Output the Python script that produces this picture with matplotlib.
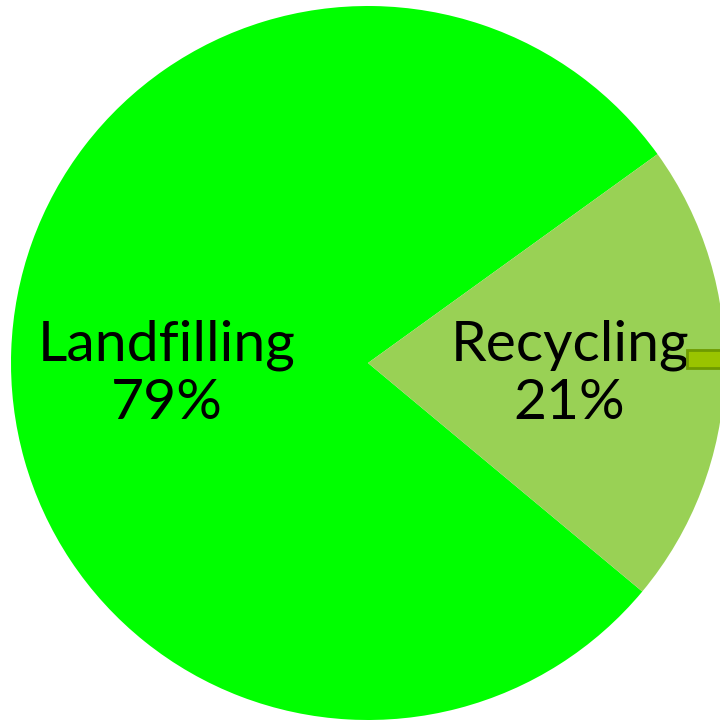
import matplotlib
matplotlib.use("Agg")
import matplotlib.pyplot as plt
from matplotlib.patches import Rectangle
import numpy as np

labels = ["Landfilling", "Recycling"]
shares = [79, 21]
colors = ["#00FF00", "#99D155"]

fig = plt.figure(figsize=(7.2, 7.2), dpi=100)
ax = fig.add_axes([0, 0, 1, 1])
wedges, texts = ax.pie(
    shares,
    colors=colors,
    startangle=35.8,
    counterclock=True,
    wedgeprops={"linewidth": 0},
)

# labels placed inside each wedge, both on the same row
total = sum(shares)
for w, name, val in zip(wedges, labels, shares):
    mid = np.deg2rad((w.theta1 + w.theta2) / 2)
    ax.text(0.565 * np.cos(mid), -0.031,
            f"{name}\n{val / total * 100:.0f}%",
            ha="center", va="center", fontsize=41, family="Lato",
            linespacing=1.17, color="black")

# small marker at the right edge
ax.add_patch(Rectangle((0.894, -0.014), 0.2, 0.05, facecolor="#99C400",
                       edgecolor="#6E9A00", linewidth=2, zorder=5))

ax.set_aspect("equal")
ax.set_xlim(-368 / 357, 352 / 357)
ax.set_ylim(-357 / 357, 363 / 357)
ax.axis("off")
fig.savefig("out.png", dpi=100)
